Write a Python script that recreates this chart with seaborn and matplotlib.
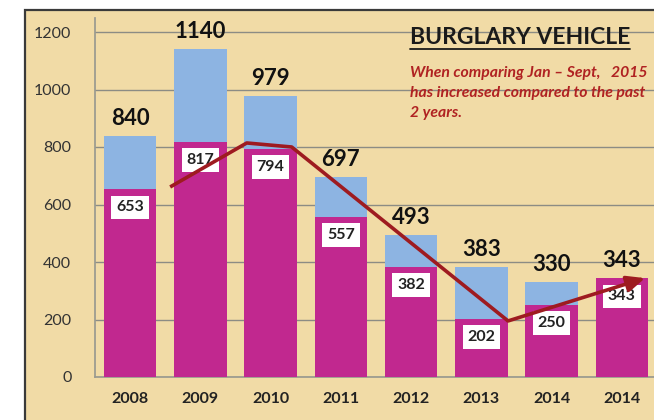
import numpy as np
import pandas as pd
import matplotlib
matplotlib.use("Agg")
import matplotlib.pyplot as plt
from matplotlib.patches import Rectangle
import seaborn as sns

# data
years = ["2008", "2009", "2010", "2011", "2012", "2013", "2014", "2014"]
full_year = [840, 1140, 979, 697, 493, 383, 330, 343]
jan_sept = [653, 817, 794, 557, 382, 202, 250, 343]

# hand drawn trend arrow (category units, count)
trend_x = [0.57, 1.66, 2.30, 5.38, 7.33]
trend_y = [661, 814, 800, 195, 344]

title = "BURGLARY VEHICLE"
note_lines = ["When comparing Jan \u2013 Sept,   2015",
              "has increased compared to the past",
              "2 years."]

paper = "#F1DBA6"
blue = "#8DB4E2"
magenta = "#C1288F"
arrow_red = "#9E1B20"

sns.set_theme(style="white")
plt.rcParams['font.family'] = ['Lato', 'DejaVu Sans']

df = pd.DataFrame({"pos": range(len(years)), "full": full_year, "part": jan_sept})

fig = plt.figure(figsize=(6.54, 4.20), dpi=100)
fig.patch.set_facecolor("white")
W, H = 654, 420
# outer chart frame with parchment fill
fig.patches.append(Rectangle((25 / W, -0.1), 1.2, (H - 10) / H + 0.1,
                             transform=fig.transFigure, facecolor=paper,
                             edgecolor="#3a3a3a", linewidth=1.6, zorder=-5))

ax = fig.add_axes([95 / W, 43 / H, 562 / W, 1250 * 0.2875 / H])
ax.set_facecolor("none")

sns.barplot(data=df, x="pos", y="full", color=blue, width=0.75,
            saturation=1, linewidth=0, edgecolor="none", ax=ax, zorder=2)
sns.barplot(data=df, x="pos", y="part", color=magenta, width=0.75,
            saturation=1, linewidth=0, edgecolor="none", ax=ax, zorder=3)

ax.set_xlim(-0.5, 7.5)
ax.set_ylim(0, 1250)
ax.set_yticks(range(0, 1201, 200))
ax.grid(axis="y", color="#8c8c84", linewidth=1, zorder=1)
ax.set_axisbelow(True)
for s in ["top", "right"]:
    ax.spines[s].set_visible(False)
ax.spines["left"].set_color("#9a9a90")
ax.spines["bottom"].set_color("#9a9a90")
ax.set_xlabel("")
ax.set_ylabel("")
ax.set_xticks(range(len(years)))
ax.set_xticklabels(years, fontweight="bold", fontsize=11.5, color="#222222")
ax.set_xticks(np.arange(0.5, len(years), 1), minor=True)
ax.tick_params(axis="x", which="major", length=0, pad=11)
ax.tick_params(axis="x", which="minor", length=5, color="#9a9a90", direction="out")
ax.tick_params(axis="y", length=10, color="#8c8c84", labelsize=11.5,
               labelcolor="#333333", pad=7)

# labels
for i, (f, p) in enumerate(zip(full_year, jan_sept)):
    ax.annotate(str(f), (i, f), xytext=(0, 5), textcoords="offset points",
                ha="center", va="bottom", fontsize=16, fontweight="bold",
                color="#111111", zorder=6, annotation_clip=False)
    ax.annotate(str(p), (i, p), xytext=(0, -13), textcoords="offset points",
                ha="center", va="center", fontsize=11.5, fontweight="bold",
                color="#222222", zorder=5,
                bbox=dict(boxstyle="square,pad=0.3", fc="white", ec="none"))

# trend arrow
ax.plot(trend_x[:-1], trend_y[:-1], color=arrow_red, linewidth=2.6,
        solid_capstyle="butt", zorder=7)
ax.annotate("", xy=(trend_x[-1], trend_y[-1]), xytext=(trend_x[-2], trend_y[-2]),
            arrowprops=dict(arrowstyle="-|>,head_length=0.9,head_width=0.4",
                            color=arrow_red, lw=2.6, shrinkA=0, shrinkB=0),
            zorder=7, annotation_clip=False)

# title + note
t = fig.text(410 / W, 1 - 37 / H, title, fontsize=16.5, fontweight="bold",
             color="#1a1a1a", ha="left", va="center")
fig.canvas.draw()
bb = t.get_window_extent()
fig.lines.append(plt.Line2D([bb.x0 / W, bb.x1 / W], [1 - 49 / H, 1 - 49 / H],
                            transform=fig.transFigure, color="#1a1a1a", linewidth=1.3))
for k, line in enumerate(note_lines):
    fig.text(410 / W, 1 - (73 + 20 * k) / H, line, fontsize=11.3,
             fontweight="bold", fontstyle="italic", color="#B02222",
             ha="left", va="center")

fig.savefig("out.png", dpi=100)
